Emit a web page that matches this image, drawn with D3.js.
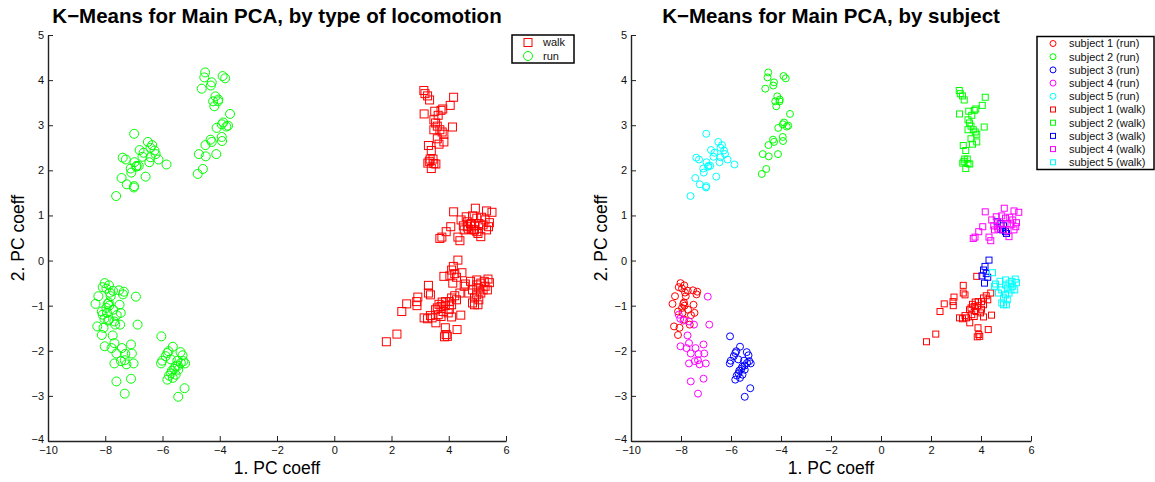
<!DOCTYPE html>
<html>
<head>
<meta charset="utf-8">
<script src="https://cdn.jsdelivr.net/npm/d3@7"></script>
<style>
  html, body { margin: 0; padding: 0; background: #fff; }
  svg { display: block; font-family: "Liberation Sans", Arial, Helvetica, sans-serif; }
</style>
</head>
<body>
<svg id="fig" width="1155" height="482"></svg>
<script>
// PC1 / PC2 scores, one array per subject and gait
const run1 = [[-8.02,-0.50],[-8.09,-0.59],[-7.87,-0.55],[-7.96,-0.62],[-8.24,-0.79],[-7.84,-0.71],[-7.73,-0.67],[-7.52,-0.66],[-7.35,-0.69],[-7.38,-0.75],[-7.81,-0.79],[-8.34,-0.96],[-7.91,-0.96],[-7.86,-1.00],[-7.96,-1.05],[-7.88,-0.93],[-8.12,-1.13],[-7.50,-0.98],[-7.46,-1.16],[-7.60,-1.21],[-8.28,-1.46],[-8.12,-1.65],[-8.06,-1.49],[-7.65,-1.42],[-7.87,-1.31],[-7.94,-1.16],[-7.72,-1.09]];
const run2 = [[-4.51,4.17],[-4.54,4.06],[-4.28,3.95],[-4.31,3.88],[-3.90,4.09],[-3.81,4.04],[-4.63,3.81],[-4.15,3.64],[-4.05,3.57],[-4.23,3.53],[-4.19,3.42],[-4.06,3.53],[-3.64,3.25],[-3.88,3.06],[-3.93,3.02],[-3.77,2.97],[-3.71,2.99],[-4.11,2.94],[-3.93,2.74],[-3.92,2.65],[-4.32,2.68],[-4.28,2.63],[-4.50,2.56],[-4.73,2.36],[-4.49,2.31],[-4.12,2.36],[-4.59,2.03],[-4.77,1.92]];
const run3 = [[-6.04,-1.68],[-6.01,-2.22],[-6.05,-2.28],[-5.89,-2.12],[-5.83,-2.05],[-5.79,-2.01],[-5.64,-1.91],[-5.37,-2.03],[-5.30,-2.10],[-5.21,-2.28],[-5.36,-2.27],[-5.46,-2.33],[-5.59,-2.40],[-5.67,-2.44],[-5.70,-2.50],[-5.77,-2.55],[-5.83,-2.64],[-5.64,-2.60],[-5.54,-2.53],[-5.45,-2.42],[-5.23,-2.83],[-5.45,-3.02],[-5.48,-2.22],[-5.71,-2.19],[-5.55,-2.35],[-5.27,-2.23]];
const run4 = [[-6.93,-0.80],[-6.87,-1.42],[-8.09,-1.20],[-8.03,-1.29],[-7.90,-1.33],[-7.48,-1.42],[-7.68,-1.35],[-7.74,-1.66],[-7.68,-1.83],[-8.02,-1.90],[-7.78,-1.94],[-7.42,-1.94],[-7.61,-2.06],[-7.10,-1.86],[-7.07,-2.06],[-7.30,-2.07],[-7.32,-2.21],[-7.68,-2.28],[-7.26,-2.30],[-7.01,-2.28],[-7.10,-2.62],[-7.61,-2.68],[-7.32,-2.95],[-7.45,-2.23]];
const run5 = [[-6.99,2.81],[-7.39,2.28],[-7.28,2.24],[-6.51,2.63],[-6.36,2.56],[-6.80,2.45],[-6.66,2.39],[-6.28,2.44],[-6.42,2.29],[-6.46,2.18],[-6.98,2.18],[-6.90,2.10],[-7.11,2.04],[-6.92,2.08],[-6.83,2.10],[-6.14,2.24],[-5.86,2.13],[-6.59,1.86],[-7.43,1.83],[-7.25,1.69],[-7.00,1.62],[-6.99,1.65],[-7.62,1.43],[-6.70,2.30],[-6.24,2.36],[-6.42,2.50],[-7.09,1.95]];

const walk1 = [[3.83,-0.35],[3.29,-0.55],[3.29,-0.72],[3.36,-0.76],[2.92,-0.81],[2.88,-0.91],[2.89,-1.00],[2.53,-0.96],[2.36,-1.13],[2.19,-1.63],[1.82,-1.80],[3.14,-1.27],[3.26,-1.29],[3.36,-1.22],[3.54,-1.09],[3.63,-1.20],[3.55,-1.38],[3.66,-0.97],[3.77,-0.92],[3.89,-0.91],[3.73,-1.02],[3.80,-1.13],[3.88,-1.00],[4.02,-0.91],[4.10,-0.83],[4.21,-0.78],[4.27,-0.87],[4.39,-0.72],[4.10,-0.98],[4.02,-1.08],[3.73,-1.24],[3.98,-1.16],[4.10,-1.25],[4.42,-1.21],[4.29,-1.53],[3.88,-1.49],[3.91,-1.64],[3.85,-1.69],[3.95,-1.68],[3.60,-1.05],[3.42,-1.27]];
const walk2 = [[3.13,3.77],[3.17,3.70],[3.26,3.65],[3.33,3.56],[4.17,3.62],[4.05,3.44],[3.14,3.25],[3.51,3.31],[3.63,3.22],[3.73,3.33],[3.79,3.36],[3.48,3.12],[3.54,3.05],[3.60,2.98],[3.48,2.90],[3.69,2.90],[3.77,2.85],[3.83,2.80],[4.13,2.96],[3.60,2.70],[3.83,2.63],[3.66,2.58],[3.29,2.55],[3.39,2.44],[3.35,2.25],[3.32,2.20],[3.45,2.25],[3.48,2.15],[3.39,2.04],[3.55,2.14],[3.27,2.16]];
const walk3 = [[4.65,0.86],[4.80,0.82],[4.90,0.77],[4.86,0.68],[4.98,0.64],[5.02,0.60],[4.79,0.69],[4.32,0.01],[4.16,-0.13],[4.10,-0.21],[4.21,-0.29],[4.27,-0.37],[4.14,-0.50],[4.04,-0.34]];
const walk4 = [[4.17,1.08],[4.93,1.16],[5.32,1.10],[5.51,1.07],[4.43,0.90],[4.61,0.97],[4.83,0.99],[4.98,0.94],[5.15,0.96],[5.27,0.90],[5.42,0.84],[4.51,0.77],[4.65,0.75],[4.76,0.81],[5.05,0.82],[5.20,0.79],[5.39,0.75],[4.07,0.75],[3.91,0.64],[3.76,0.52],[3.69,0.49],[4.32,0.52],[4.39,0.44],[5.12,0.53],[4.68,0.70],[4.90,0.68],[5.32,0.68],[4.54,0.68]];
const walk5 = [[4.46,-0.27],[4.58,-0.52],[4.76,-0.46],[4.98,-0.43],[5.12,-0.50],[5.37,-0.41],[5.42,-0.49],[5.27,-0.57],[5.05,-0.61],[4.83,-0.65],[5.12,-0.72],[4.98,-0.76],[5.20,-0.65],[4.90,-0.83],[5.05,-0.87],[4.83,-0.94],[4.90,-0.98],[5.02,-0.98],[4.70,-0.72],[4.54,-0.57],[4.98,-0.54],[5.35,-0.65],[5.24,-0.46]];

const runSets = [run1, run2, run3, run4, run5];
const walkSets = [walk1, walk2, walk3, walk4, walk5];
const subjectColors = ["#ff0000", "#00ff00", "#0000ff", "#ff00ff", "#00ffff"];
const subjectNames = ["subject 1", "subject 2", "subject 3", "subject 4", "subject 5"];

const xTicks = [-10, -8, -6, -4, -2, 0, 2, 4, 6];
const yTicks = [-4, -3, -2, -1, 0, 1, 2, 3, 4, 5];
const xDomain = [-10, 6];
const yDomain = [-4, 5];

const svg = d3.select("#fig");

function marker(sel, shape, size, color) {
  if (shape === "circle") {
    sel.append("circle").attr("r", size / 2)
      .attr("fill", "none").attr("stroke", color).attr("stroke-width", 1);
  } else {
    sel.append("rect").attr("x", -size / 2).attr("y", -size / 2)
      .attr("width", size).attr("height", size)
      .attr("fill", "none").attr("stroke", color).attr("stroke-width", 1);
  }
}

function panel(cfg) {
  const x = d3.scaleLinear().domain(xDomain).range([cfg.left, cfg.right]);
  const y = d3.scaleLinear().domain(yDomain).range([cfg.bottom, cfg.top]);
  const g = svg.append("g");

  // data layers
  cfg.layers.forEach(layer => {
    const lg = g.append("g");
    lg.selectAll("g.pt").data(layer.points).join("g")
      .attr("transform", d => `translate(${x(d[0])},${y(d[1])})`)
      .each(function () { marker(d3.select(this), layer.shape, layer.shape === "circle" ? cfg.circleSize : cfg.squareSize, layer.color); });
  });

  // axes with inward ticks
  const ax = g.append("g").attr("transform", `translate(0,${cfg.bottom})`)
    .call(d3.axisBottom(x).tickValues(xTicks).tickSizeInner(-5).tickSizeOuter(0).tickPadding(5));
  const ay = g.append("g").attr("transform", `translate(${cfg.left},0)`)
    .call(d3.axisLeft(y).tickValues(yTicks).tickSizeInner(-5).tickSizeOuter(0).tickPadding(4));
  [ax, ay].forEach(a => {
    a.selectAll("path.domain").attr("stroke", "#222").attr("stroke-width", 1.4);
    a.selectAll(".tick line").attr("stroke", "#222").attr("stroke-width", 1);
    a.selectAll(".tick text").attr("font-size", 11).attr("fill", "#111")
      .attr("font-family", "Liberation Sans, Arial, sans-serif");
  });
  ay.selectAll(".tick text").filter(d => d === -4).attr("dy", "0.1em");

  // titles
  g.append("text").attr("x", (cfg.left + cfg.right) / 2).attr("y", 23)
    .attr("text-anchor", "middle").attr("font-weight", "bold").attr("font-size", 20.5)
    .text(cfg.title);
  g.append("text").attr("x", (cfg.left + cfg.right) / 2).attr("y", 474)
    .attr("text-anchor", "middle").attr("font-size", 17.5).text("1. PC coeff");
  g.append("text").attr("transform", `translate(${cfg.left - 24},${(cfg.top + cfg.bottom) / 2}) rotate(-90)`)
    .attr("text-anchor", "middle").attr("font-size", 17.5).text("2. PC coeff");

  // legend
  const lgd = cfg.legend;
  const lb = g.append("g");
  lb.append("rect").attr("x", lgd.x).attr("y", lgd.y).attr("width", lgd.w).attr("height", lgd.h)
    .attr("fill", "#fff").attr("stroke", "#000").attr("stroke-width", 1.5);
  lgd.items.forEach((it, i) => {
    const cy = lgd.y + lgd.first + i * lgd.step;
    const m = lb.append("g").attr("transform", `translate(${lgd.x + lgd.mx},${cy})`);
    marker(m, it.shape, it.shape === "circle" ? lgd.circleSize : lgd.squareSize, it.color);
    lb.append("text").attr("x", lgd.x + lgd.tx).attr("y", cy).attr("dy", "0.35em")
      .attr("font-size", 11).attr("fill", "#111").text(it.label);
  });
}

// left panel: coloured by gait
panel({
  left: 48, right: 506, top: 35, bottom: 441,
  title: "K\u2212Means for Main PCA, by type of locomotion",
  circleSize: 9, squareSize: 8,
  layers: [
    { points: walkSets.flat(), shape: "square", color: "#ff0000" },
    { points: runSets.flat(), shape: "circle", color: "#00ff00" }
  ],
  legend: {
    x: 512, y: 35, w: 62, h: 28, first: 7.5, step: 13.5, mx: 16, tx: 31,
    circleSize: 9, squareSize: 8,
    items: [
      { label: "walk", shape: "square", color: "#ff0000" },
      { label: "run", shape: "circle", color: "#00ff00" }
    ]
  }
});

// right panel: coloured by subject
panel({
  left: 631, right: 1031, top: 35, bottom: 441,
  title: "K\u2212Means for Main PCA, by subject",
  circleSize: 7, squareSize: 6,
  layers: [
    ...runSets.map((p, i) => ({ points: p, shape: "circle", color: subjectColors[i] })),
    ...walkSets.map((p, i) => ({ points: p, shape: "square", color: subjectColors[i] }))
  ],
  legend: {
    x: 1037, y: 36.5, w: 117, h: 133, first: 7, step: 13.2, mx: 16, tx: 32,
    circleSize: 6, squareSize: 5,
    items: [
      ...subjectNames.map((n, i) => ({ label: n + " (run)", shape: "circle", color: subjectColors[i] })),
      ...subjectNames.map((n, i) => ({ label: n + " (walk)", shape: "square", color: subjectColors[i] }))
    ]
  }
});
</script>
</body>
</html>
